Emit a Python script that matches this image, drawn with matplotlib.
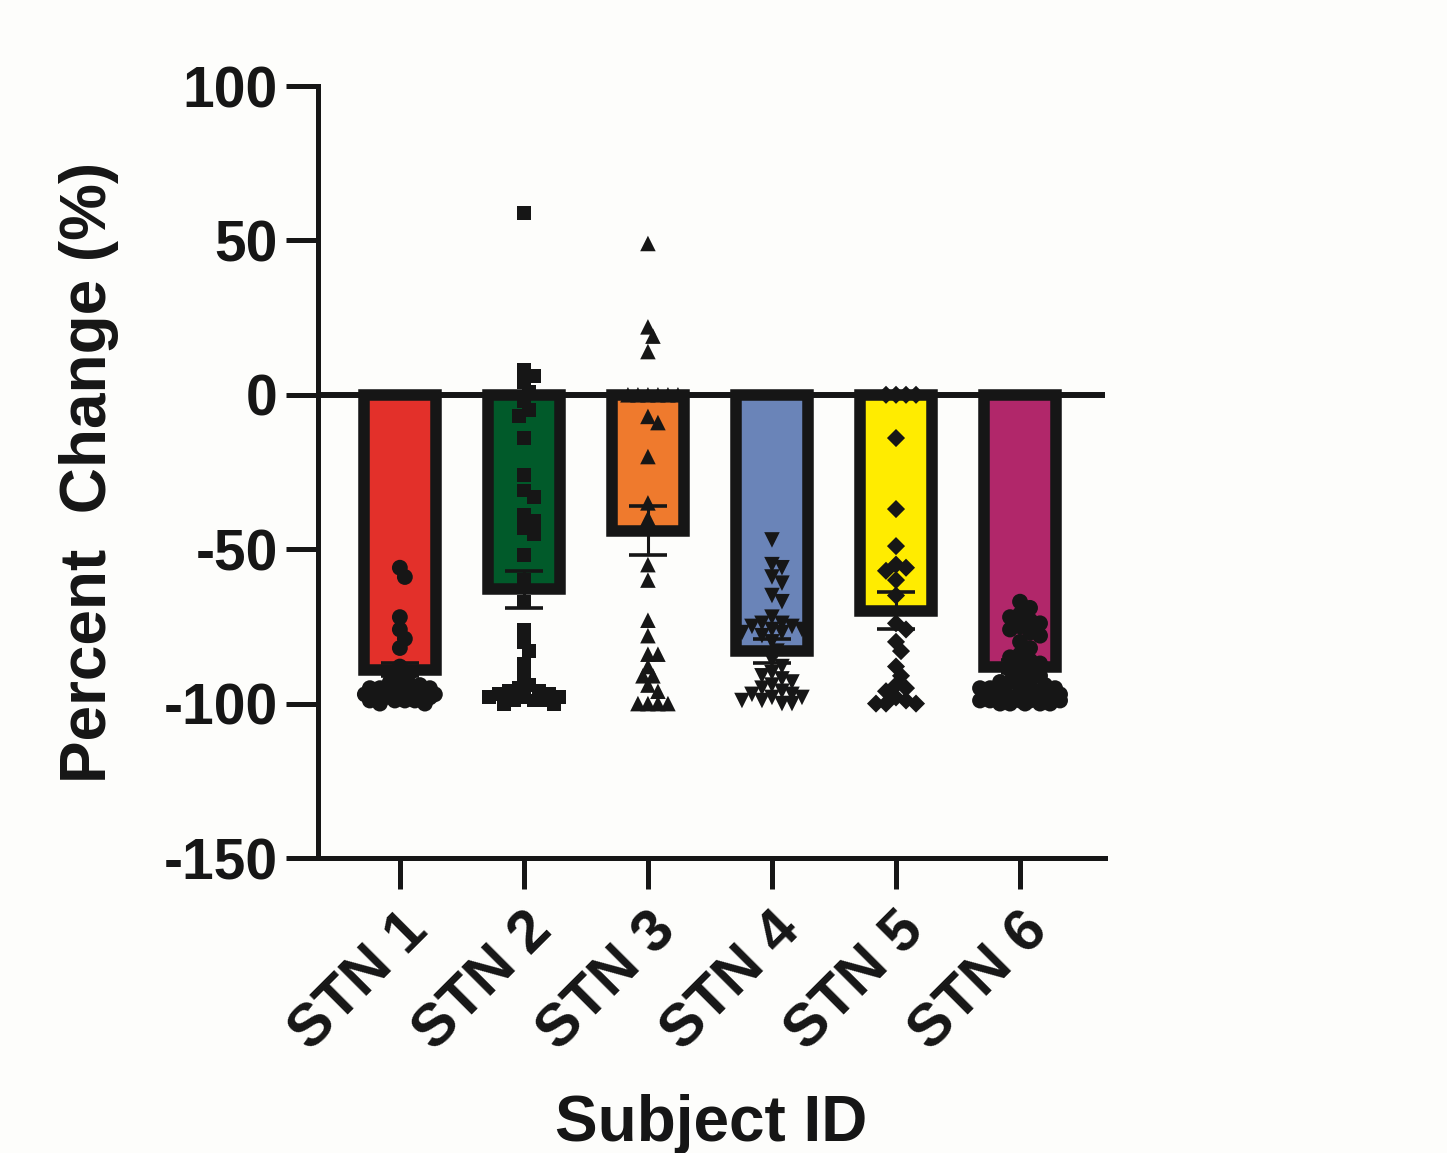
import numpy as np
import matplotlib
matplotlib.use("Agg")
import matplotlib.pyplot as plt

plt.rcParams['font.family'] = ['Liberation Sans', 'DejaVu Sans']
plt.rcParams['font.weight'] = 'bold'
plt.rcParams['axes.unicode_minus'] = False

# ---------------- data ----------------
subjects = ["STN 1", "STN 2", "STN 3", "STN 4", "STN 5", "STN 6"]
bar_colors = ["#E3302A", "#015A2A", "#EF7A2D", "#6A84B8", "#FFEC00", "#B1276A"]
markers = ["o", "s", "^", "v", "D", "o"]
means = [-89, -63, -44, -83, -70, -88]
sems = [2, 6, 8, 4, 6, 2]

stn1 = [-56, -59, -72, -76, -79, -82, -88, -90, -92, -93, -94, -94, -95, -95, -95,
        -96, -96, -96, -96, -97, -97, -97, -97, -97, -98, -98, -98, -98, -98,
        -99, -99, -99, -99, -100, -100]
stn2 = [59, 8, 6, 4, 1, -2, -5, -7, -14, -26, -31, -33, -39, -41, -43, -45, -52,
        -60, -67, -76, -80, -83, -87, -91, -94, -95, -96, -96, -97, -97, -98, -98,
        -98, -99, -99, -99, -100, -100]
stn3 = [49, 22, 19, 14, 0, 0, 0, 0, 0, 0, -7, -9, -20, -35, -40, -55, -60, -73,
        -78, -84, -84, -88, -91, -91, -94, -96, -100, -100, -100, -100]
stn4 = [-47, -55, -56, -59, -61, -65, -67, -72, -74, -74, -75, -75, -76, -76, -77,
        -77, -78, -80, -83, -86, -88, -90, -91, -92, -93, -94, -95, -96, -97, -97,
        -98, -98, -99, -99, -100, -100]
stn5 = [0, 0, 0, 0, -14, -37, -49, -55, -56, -57, -60, -65, -74, -76, -80, -83,
        -88, -91, -94, -95, -96, -98, -99, -100, -100, -100]
stn6 = [-67, -69, -71, -72, -73, -74, -75, -76, -77, -78, -80, -82, -84, -85, -86,
        -87, -88, -89, -90, -91, -92, -93, -93, -94, -94, -95, -95, -95, -96, -96,
        -96, -97, -97, -97, -97, -98, -98, -98, -98, -98, -99, -99, -99, -99, -99,
        -100, -100, -100, -100, -100]
points = [stn1, stn2, stn3, stn4, stn5, stn6]

# ---------------- figure ----------------
W, H, DPI = 1447, 1153, 100
fig = plt.figure(figsize=(W / DPI, H / DPI), dpi=DPI, facecolor="#FDFDFB")
ax = fig.add_axes([318 / W, 1 - 858 / H, (1105 - 318) / W, (858 - 86) / H])
ax.set_facecolor("none")
ink = "#161616"

x = np.arange(len(subjects))
ax.set_xlim(-0.66, 5.685)
ax.set_ylim(-150, 100)

# bars
ax.bar(x, means, width=0.577, color=bar_colors, edgecolor=ink, linewidth=8.3,
       zorder=2)


def swarm(vals, px_per_y, px_per_x, d, max_w):
    """beeswarm layout in pixel space with limited width; returns x offsets"""
    order = np.argsort(-np.asarray(vals))
    placed = []
    offs = np.zeros(len(vals))
    step = d * 0.5
    cand = [0.0]
    k = 1
    while k * step <= max_w:
        cand += [k * step, -k * step]
        k += 1
    for i in order:
        yp = vals[i] * px_per_y
        best, best_c = -1, 0.0
        chosen = None
        for c in cand:
            mind = min([np.hypot(c - xq, yp - yq) for (xq, yq) in placed] + [1e9])
            if mind >= d:
                chosen = c
                break
            if mind > best:
                best, best_c = mind, c
        if chosen is None:
            chosen = best_c
        placed.append((chosen, yp))
        offs[i] = chosen / px_per_x
    return offs


px_y = 3.08
px_x = 124.0
sizes = {"o": 130, "s": 100, "^": 125, "v": 125, "D": 85}
widths = [38, 38, 30, 36, 36, 40]
for i, vals in enumerate(points):
    offs = swarm(vals, px_y, px_x, 10.0, widths[i])
    ax.scatter(x[i] + offs, vals, marker=markers[i], s=sizes[markers[i]],
               color=ink, edgecolors="none", zorder=3)

# error bars
ax.errorbar(x, means, yerr=sems, fmt="none", ecolor=ink, elinewidth=2.2,
            capsize=14, capthick=2.6, zorder=4)

# zero line
ax.axhline(0, color=ink, linewidth=4.3, zorder=5)

# axes styling
for s in ["top", "right"]:
    ax.spines[s].set_visible(False)
for s in ["left", "bottom"]:
    ax.spines[s].set_linewidth(3.6)
    ax.spines[s].set_color(ink)
    ax.spines[s].set_zorder(6)

ax.set_yticks([100, 50, 0, -50, -100, -150])
ax.tick_params(axis="y", length=23, width=3.6, color=ink, labelsize=41,
               labelcolor=ink, pad=6)
ax.set_xticks(x)
ax.set_xticklabels(subjects, rotation=45, ha="right", va="top",
                   rotation_mode="anchor")
ax.tick_params(axis="x", length=22, width=3.6, color=ink, labelsize=43,
               labelcolor=ink, pad=10)
for lab in ax.get_yticklabels() + ax.get_xticklabels():
    lab.set_fontweight("bold")

ax.set_ylabel("Percent  Change (%)", fontsize=46, fontweight="bold", color=ink,
              labelpad=32)
ax.set_xlabel("Subject ID", fontsize=46, fontweight="bold", color=ink,
              labelpad=24)

fig.savefig("out.png", dpi=DPI, facecolor=fig.get_facecolor())
